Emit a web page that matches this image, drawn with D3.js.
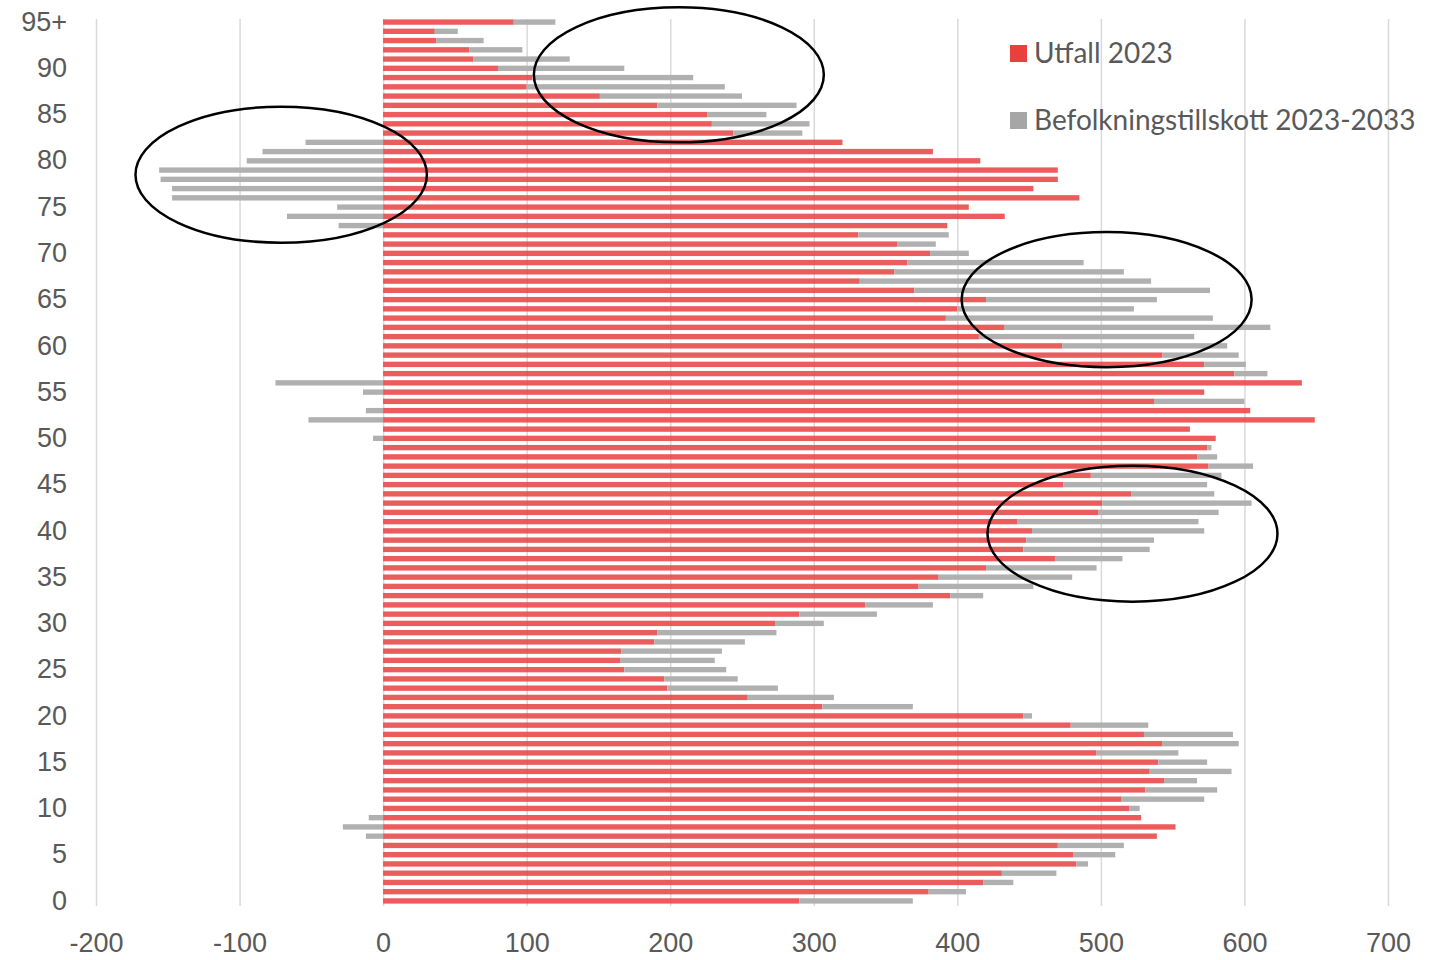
<!DOCTYPE html>
<html>
<head>
<meta charset="utf-8">
<title>Utfall 2023 och befolkningstillskott</title>
<script src="https://cdn.jsdelivr.net/npm/d3@7"></script>
<style>
	body { margin: 0; background: #ffffff; }
	#chart { display: block; font-family: Lato, "Open Sans", sans-serif; }
	.axis text { fill: #595959; font-size: 27px; }
	.legend text { fill: #595959; font-size: 28px; }
</style>
</head>
<body>
<svg id="chart"></svg>
<script>
// ages 0..95 (95 = 95+)
const ages = d3.range(0, 96);

// Utfall 2023, index = age
const utfall = [
	290, 380, 418, 431, 483, 481, 470, 539, 552, 528,
	520, 514, 531, 544, 534, 540, 497, 543, 530, 479,
	446, 306, 254, 198, 196, 168, 165, 166, 189, 191,
	273, 290, 336, 395, 373, 387, 420, 468, 446, 448,
	452, 442, 498, 501, 521, 474, 493, 575, 567, 574,
	580, 562, 649, 604, 537, 572, 640, 593, 572, 543,
	473, 415, 433, 392, 400, 420, 370, 332, 356, 365,
	381, 358, 331, 393, 433, 408, 485, 453, 470, 470,
	416, 383, 320, 244, 229, 226, 191, 151, 100, 104,
	80, 63, 60, 37, 36, 91
];

// Befolkningstillskott 2023-2033, index = age
const tillskott = [
	79, 26, 21, 38, 8, 29, 46, -12, -28, -10,
	7, 58, 50, 23, 57, 34, 57, 53, 62, 54,
	6, 63, 60, 77, 51, 71, 66, 70, 63, 83,
	34, 54, 47, 23, 80, 93, 77, 47, 88, 89,
	120, 126, 84, 104, 58, 100, 91, 31, 14, 3,
	-7, 0, -52, -12, 63, -14, -75, 23, 29, 53,
	115, 150, 185, 186, 123, 119, 206, 203, 160, 123,
	27, 27, 63, -31, -67, -32, -147, -147, -155, -156,
	-95, -84, -54, 48, 68, 41, 97, 99, 138, 112,
	88, 67, 37, 33, 16, 29
];

const xTicks = [-200, -100, 0, 100, 200, 300, 400, 500, 600, 700];
const yTicks = [0, 5, 10, 15, 20, 25, 30, 35, 40, 45, 50, 55, 60, 65, 70, 75, 80, 85, 90, 95];

const seriesNames = ["Utfall 2023", "Befolkningstillskott 2023-2033"];
const seriesColors = ["#e8403f", "#b0b0b0"];

// hand-drawn ellipses on the picture: centre (value, age) and radii (value units, ages)
const ellipseX = [-71, 206, 504, 522];
const ellipseAge = [78.5, 89.3, 65, 39.7];
const ellipseRx = [101.5, 101, 101, 101];
const ellipseRy = [7.35, 7.3, 7.3, 7.35];

let chart, xScale, yScale, ageScale;
let w = 1435, h = 960;

window.onload = function () {
	makeChart();
}

function makeChart() {

	chart = d3.select('#chart')
		.attr('width', w)
		.attr('height', h);

	xScale = d3.scaleLinear()
		.domain([-200, 700])
		.range([96, 1388]);

	// one band per age, oldest at the top
	yScale = d3.scaleBand()
		.domain(ages.slice().reverse())
		.range([15.5, 907.5])
		.padding(0.42);

	// continuous age -> y for the ellipses
	ageScale = d3.scaleLinear()
		.domain([0, 95])
		.range([yScale(0) + yScale.bandwidth() / 2, yScale(95) + yScale.bandwidth() / 2]);

	// vertical gridlines
	chart.append('g')
		.attr('class', 'grid')
		.attr('transform', `translate(0, 906)`)
		.call(d3.axisBottom(xScale).tickValues(xTicks).tickSize(-887).tickFormat(''))
		.call(g => g.select('.domain').remove())
		.call(g => g.selectAll('line').attr('stroke', '#d9d9d9').attr('stroke-width', 1.5));

	let rows = ages.map(a => ({ age: a, utfall: utfall[a], tillskott: tillskott[a] }));

	// red bars
	chart.append('g')
		.selectAll('rect')
		.data(rows)
		.enter()
		.append('rect')
		.attr('x', xScale(0))
		.attr('y', d => yScale(d.age))
		.attr('width', d => xScale(d.utfall) - xScale(0))
		.attr('height', yScale.bandwidth())
		.attr('fill', seriesColors[0])
		.attr('fill-opacity', 0.85);

	// grey bars, stacked on red when positive, from 0 to the left when negative
	chart.append('g')
		.selectAll('rect')
		.data(rows.filter(d => d.tillskott !== 0))
		.enter()
		.append('rect')
		.attr('x', d => d.tillskott > 0 ? xScale(d.utfall) : xScale(d.tillskott))
		.attr('y', d => yScale(d.age))
		.attr('width', d => d.tillskott > 0
			? xScale(d.utfall + d.tillskott) - xScale(d.utfall)
			: xScale(0) - xScale(d.tillskott))
		.attr('height', yScale.bandwidth())
		.attr('fill', seriesColors[1]);

	// AXES (plain hyphen for negatives, as in the original)
	chart.append('g')
		.attr('class', 'axis')
		.attr('transform', `translate(0, 925)`)
		.call(d3.axisBottom(xScale).tickValues(xTicks).tickSize(0).tickPadding(8)
			.tickFormat(d => String(d)))
		.call(g => g.select('.domain').remove());

	chart.append('g')
		.attr('class', 'axis')
		.attr('transform', `translate(76, 0)`)
		.call(d3.axisLeft(yScale).tickValues(yTicks).tickSize(0).tickPadding(9)
			.tickFormat(d => d === 95 ? '95+' : d))
		.call(g => g.select('.domain').remove());

	// LEGEND
	let legend = chart.append('g').attr('class', 'legend');
	let legendY = [45, 112];

	legend.selectAll('rect')
		.data(seriesNames)
		.enter()
		.append('rect')
		.attr('x', 1010)
		.attr('y', (d, i) => legendY[i])
		.attr('width', 17)
		.attr('height', 17)
		.attr('fill', (d, i) => i === 0 ? seriesColors[0] : '#a6a6a6');

	legend.selectAll('text')
		.data(seriesNames)
		.enter()
		.append('text')
		.attr('x', 1034)
		.attr('y', (d, i) => legendY[i] + 18)
		.text(d => d);

	// ellipses
	chart.append('g')
		.selectAll('ellipse')
		.data(ellipseX)
		.enter()
		.append('ellipse')
		.attr('cx', d => xScale(d))
		.attr('cy', (d, i) => ageScale(ellipseAge[i]))
		.attr('rx', (d, i) => xScale(ellipseRx[i]) - xScale(0))
		.attr('ry', (d, i) => ageScale(0) - ageScale(ellipseRy[i]))
		.attr('fill', 'none')
		.attr('stroke', '#000000')
		.attr('stroke-width', 2.5);
}
</script>
</body>
</html>
